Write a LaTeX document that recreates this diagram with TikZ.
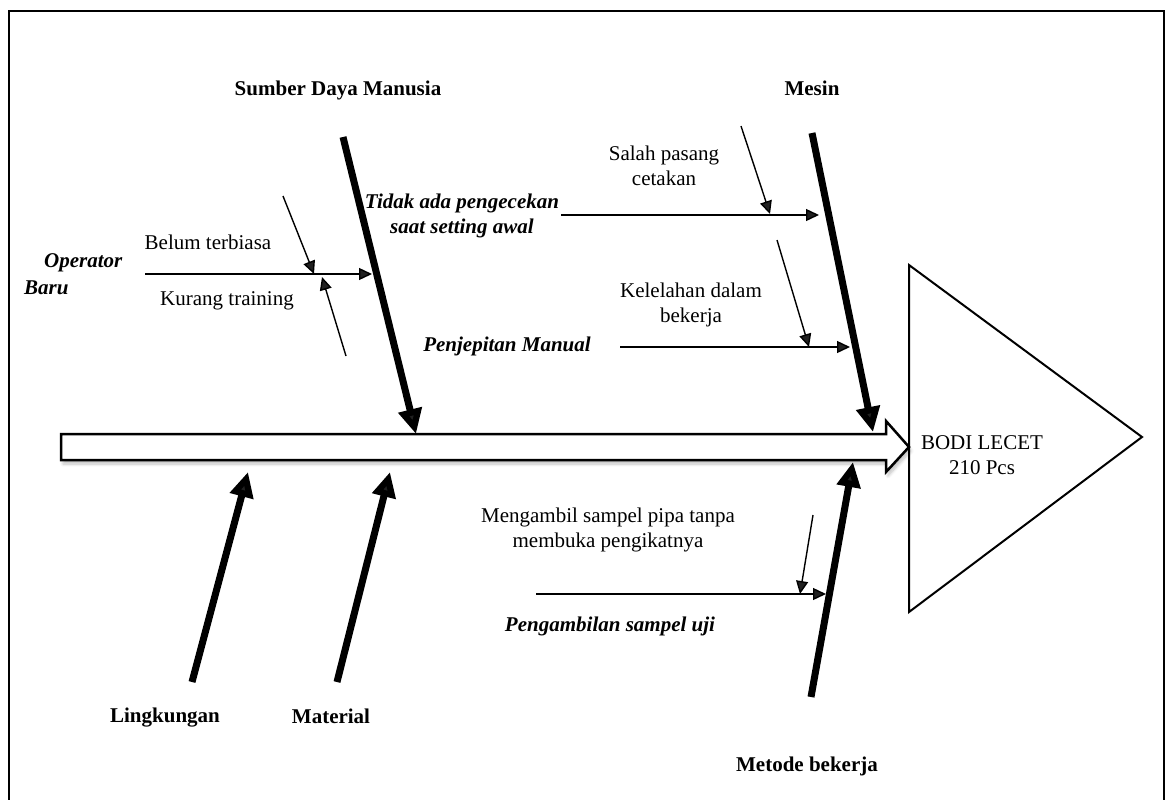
\documentclass[tikz,border=0pt]{standalone}
\usepackage{fontspec}
\setmainfont{Liberation Serif}
\usetikzlibrary{arrows.meta,shadows,shadows.blur}

\begin{document}
\begin{tikzpicture}[x=1pt,y=-1pt,
  every node/.style={font=\fontsize{21}{25}\selectfont, inner sep=0pt, align=center},
  lbl/.style={font=\fontsize{21}{25}\selectfont\bfseries},
  cause/.style={font=\fontsize{21}{25}\selectfont\bfseries\itshape},
  bone/.style={line width=7pt, -{Triangle[length=25pt,width=23pt]}},
  twig/.style={line width=1.4pt, -{Triangle[length=13pt,width=12pt]}},
  spine/.style={fill=white, line width=2.5pt, line join=miter,
    blur shadow={shadow xshift=2pt, shadow yshift=-4pt, shadow blur steps=6,
      shadow blur radius=3pt, shadow opacity=25}},
]
\useasboundingbox (0,0) rectangle (1167,800);

% outer frame (open at the bottom)
\draw[line width=2.6pt] (9,801) -- (9,11) -- (1164,11) -- (1164,801);

% head of the fish: the effect
\draw[line width=2pt, line join=miter] (909,265) -- (1142,437) -- (909,612) -- cycle;
\node (effect) at (982,455) {BODI LECET\\210 Pcs};

% spine: hollow block arrow
\draw[spine] (61,434) -- (886,434) -- (886,421) -- (909,447) -- (886,472)
  -- (886,460) -- (61,460) -- cycle;

% main bones
\coordinate (sdmA) at (343,137);   \coordinate (sdmB) at (416,434);
\coordinate (mesA) at (812,133);   \coordinate (mesB) at (873,432);
\coordinate (metA) at (811,697);   \coordinate (metB) at (853,462);
\coordinate (lngA) at (192,682);   \coordinate (lngB) at (248,472);
\coordinate (matA) at (337,682);   \coordinate (matB) at (390,472);
\draw[bone] (sdmA) -- (sdmB);
\draw[bone] (mesA) -- (mesB);
\draw[bone] (metA) -- (metB);
\draw[bone] (lngA) -- (lngB);
\draw[bone] (matA) -- (matB);

% category labels
\node[lbl] (sdm) at (338,90) {Sumber Daya Manusia};
\node[lbl] (mesin) at (812,88) {Mesin};
\node[lbl] (metode) at (807,766) {Metode bekerja};
\node[lbl] (lingkungan) at (165,718) {Lingkungan};
\node[lbl] (material) at (331,716) {Material};

% Sumber Daya Manusia: Operator Baru
\node[cause, anchor=west] (op1) at (44,263) {Operator};
\node[cause, anchor=west] (op2) at (24,288) {Baru};
\coordinate (opA) at (145,274); \coordinate (opB) at (372,274);
\draw[twig] (opA) -- (opB);
\node (belum) at (208,242) {Belum terbiasa};
\coordinate (belA) at (283,196); \coordinate (belB) at (314,274);
\draw[twig] (belA) -- (belB);
\node (kurang) at (227,301) {Kurang training};
\coordinate (kurA) at (346,356); \coordinate (kurB) at (322,277);
\draw[twig] (kurA) -- (kurB);

% Mesin: Tidak ada pengecekan
\node[cause] (tidak) at (462,216) {Tidak ada pengecekan\\saat setting awal};
\coordinate (tdkA) at (561,215); \coordinate (tdkB) at (819,215);
\draw[twig] (tdkA) -- (tdkB);
\node (salah) at (664,166) {Salah pasang\\cetakan};
\coordinate (slhA) at (741,126); \coordinate (slhB) at (770,214);
\draw[twig] (slhA) -- (slhB);

% Mesin: Penjepitan Manual
\node[cause] (jepit) at (507,346) {Penjepitan Manual};
\coordinate (jptA) at (620,347); \coordinate (jptB) at (850,347);
\draw[twig] (jptA) -- (jptB);
\node (lelah) at (691,305) {Kelelahan dalam\\bekerja};
\coordinate (llhA) at (777,240); \coordinate (llhB) at (809,347);
\draw[twig] (llhA) -- (llhB);

% Metode bekerja: Pengambilan sampel uji
\node[cause] (ambil) at (610,626) {Pengambilan sampel uji};
\coordinate (amlA) at (536,594); \coordinate (amlB) at (826,594);
\draw[twig] (amlA) -- (amlB);
\node (sampel) at (608,530) {Mengambil sampel pipa tanpa\\membuka pengikatnya};
\coordinate (smpA) at (813,515); \coordinate (smpB) at (800,594);
\draw[twig] (smpA) -- (smpB);
\end{tikzpicture}
\end{document}
